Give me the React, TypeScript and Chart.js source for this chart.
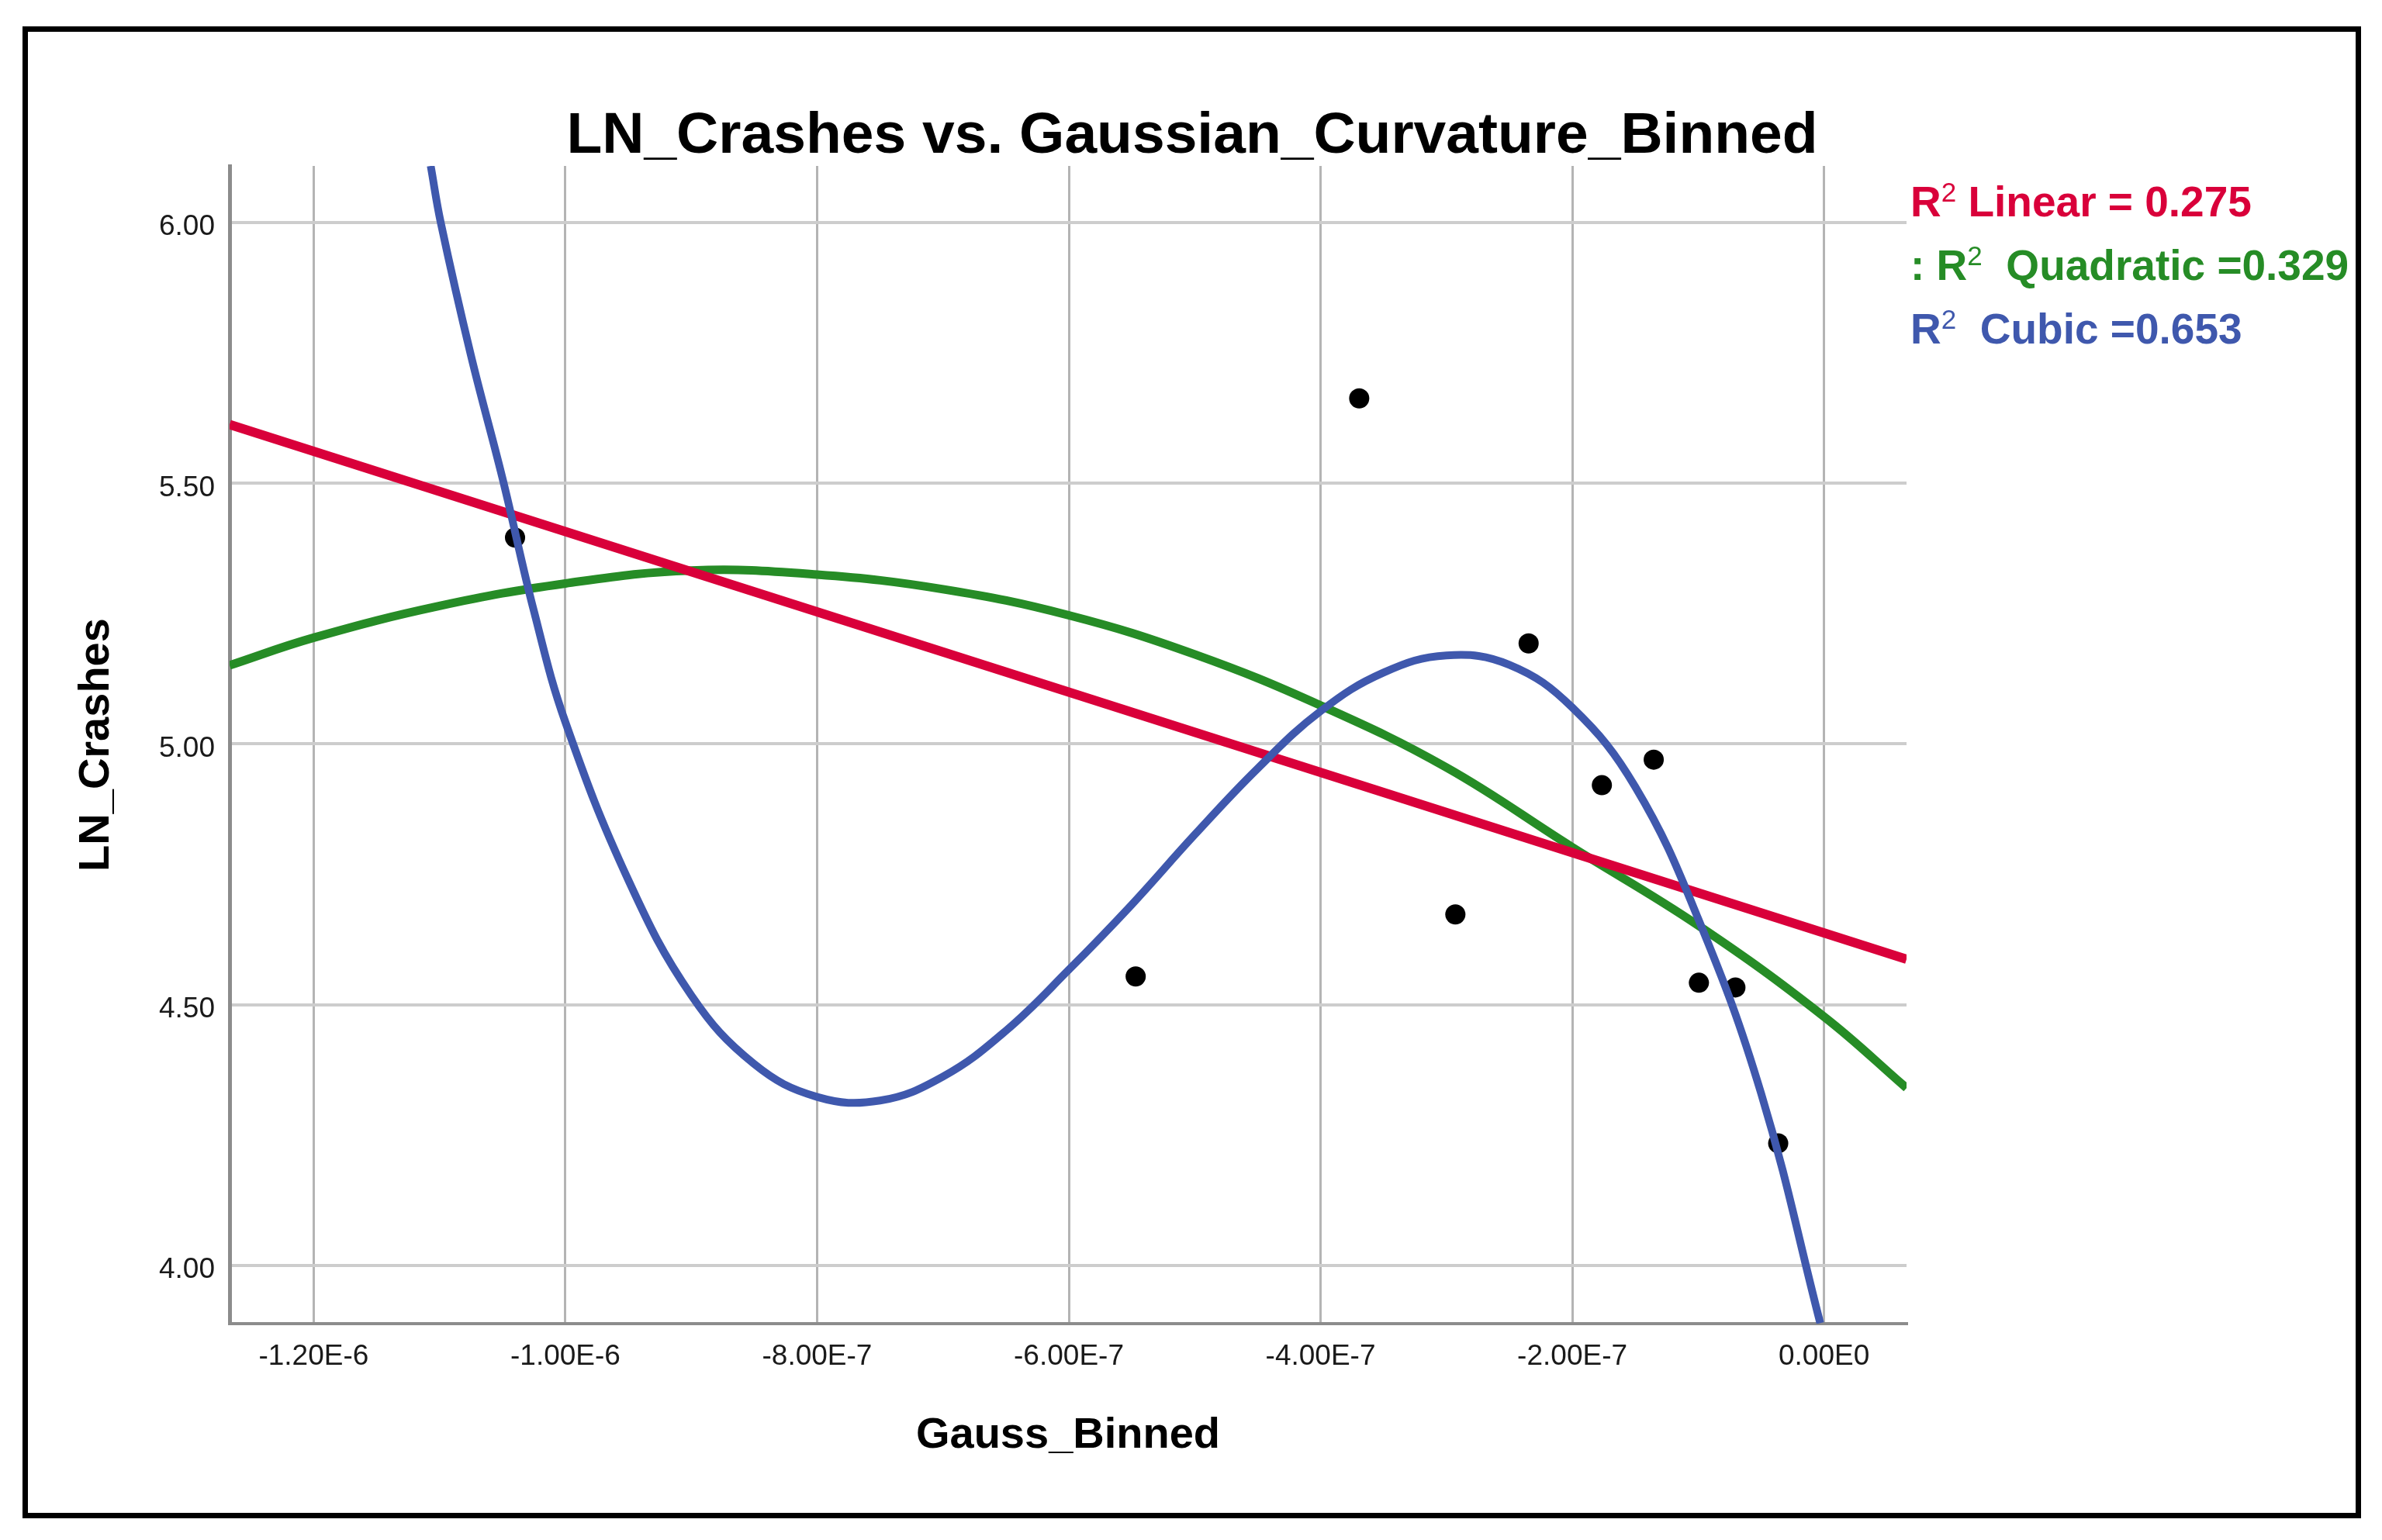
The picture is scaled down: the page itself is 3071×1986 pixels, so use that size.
import React, { useEffect, useRef } from "react";
import { Chart, registerables } from "chart.js";

Chart.register(...registerables);

const FONT = '"Liberation Sans", Arial, Helvetica, sans-serif';

// ---- Data ----
const X_MIN = -1.2668e-6;
const X_MAX = 6.556e-8;
const Y_MIN = 3.888;
const Y_MAX = 6.109;

const X_TICKS = [-1.2e-6, -1.0e-6, -8.0e-7, -6.0e-7, -4.0e-7, -2.0e-7, 0];
const X_TICK_LABELS = ["-1.20E-6", "-1.00E-6", "-8.00E-7", "-6.00E-7", "-4.00E-7", "-2.00E-7", "0.00E0"];
const Y_TICKS = [4.0, 4.5, 5.0, 5.5, 6.0];
const Y_TICK_LABELS = ["4.00", "4.50", "5.00", "5.50", "6.00"];

// observed (binned) points
const POINT_X = [-1.04e-6, -3.693e-7, -2.347e-7, -1.353e-7, -1.765e-7, -2.929e-7, -5.469e-7, -9.94e-8, -7.04e-8, -3.64e-8];
const POINT_Y = [5.396, 5.663, 5.193, 4.97, 4.921, 4.673, 4.554, 4.542, 4.533, 4.234];

// linear fit line (read at the plot edges)
const LINEAR_X = [-1.2668e-6, 6.556e-8];
const LINEAR_Y = [5.613, 4.587];

// quadratic fit curve
const QUAD_X = [-1.2668e-6, -1.2e-6, -1.1e-6, -1.0e-6, -9e-7, -8e-7, -7e-7, -6e-7, -5e-7, -4e-7, -3e-7, -2e-7, -1e-7, 0, 6.556e-8];
const QUAD_Y = [5.151, 5.204, 5.265, 5.308, 5.333, 5.325, 5.297, 5.247, 5.172, 5.074, 4.955, 4.802, 4.652, 4.477, 4.34];

// cubic fit curve
const CUBIC_X = [-1.107e-6, -1.099e-6, -1.075e-6, -1.05e-6, -1.025e-6, -1.0e-6, -9.5e-7, -9.0e-7, -8.5e-7, -8.0e-7, -7.5e-7, -7.0e-7, -6.5e-7, -6.0e-7, -5.5e-7, -5.0e-7, -4.5e-7, -4.0e-7, -3.5e-7, -3.0e-7, -2.5e-7, -2.0e-7, -1.5e-7, -1.0e-7, -5.0e-8, -3e-9];
const CUBIC_Y = [6.109, 6.0, 5.745, 5.51, 5.255, 5.042, 4.739, 4.518, 4.386, 4.323, 4.316, 4.362, 4.45, 4.567, 4.692, 4.826, 4.953, 5.063, 5.137, 5.17, 5.152, 5.07, 4.918, 4.665, 4.33, 3.889];

const LEGEND_LINEAR = "0.275";
const LEGEND_QUAD = "0.329";
const LEGEND_CUBIC = "0.653";

const RED = "#d9003a";
const GREEN = "#268c26";
const BLUE = "#3f58ad";

const zip = (xs: number[], ys: number[]) => xs.map((x, i) => ({ x, y: ys[i] }));

export default function App() {
  const ref = useRef<HTMLCanvasElement>(null);

  useEffect(() => {
    if (!ref.current) return;
    const chart = new Chart(ref.current, {
      type: "scatter",
      data: {
        datasets: [
          {
            type: "scatter",
            label: "Observed",
            data: zip(POINT_X, POINT_Y),
            pointRadius: 13,
            pointBackgroundColor: "#000",
            pointBorderWidth: 0,
            order: 4,
          } as any,
          {
            type: "line",
            label: "Quadratic",
            data: zip(QUAD_X, QUAD_Y),
            borderColor: GREEN,
            borderWidth: 11,
            pointRadius: 0,
            tension: 0.4,
            fill: false,
            clip: 0,
            order: 3,
          } as any,
          {
            type: "line",
            label: "Linear",
            data: zip(LINEAR_X, LINEAR_Y),
            borderColor: RED,
            borderWidth: 12,
            pointRadius: 0,
            tension: 0,
            fill: false,
            clip: 0,
            order: 2,
          } as any,
          {
            type: "line",
            label: "Cubic",
            data: zip(CUBIC_X, CUBIC_Y),
            borderColor: BLUE,
            borderWidth: 10,
            pointRadius: 0,
            tension: 0.4,
            fill: false,
            clip: 0,
            order: 1,
          } as any,
        ],
      },
      options: {
        responsive: false,
        devicePixelRatio: 1,
        animation: false,
        events: [],
        layout: { padding: { left: 0, top: 214, right: 613, bottom: 0 } },
        plugins: {
          legend: { display: false },
          title: { display: false },
          tooltip: { enabled: false },
        },
        scales: {
          x: {
            type: "linear",
            min: X_MIN,
            max: X_MAX,
            afterBuildTicks: (s: any) => {
              s.ticks = X_TICKS.map((v) => ({ value: v }));
            },
            afterFit: (s: any) => {
              s.height = 279;
            },
            ticks: {
              autoSkip: false,
              maxRotation: 0,
              padding: 21,
              color: "#1a1a1a",
              font: { family: FONT, size: 37 },
              callback: (_v: any, i: number) => X_TICK_LABELS[i],
            },
            grid: { color: "#b4b4b4", lineWidth: 3, drawTicks: false },
            border: { display: true, color: "#8c8c8c", width: 4 },
            title: {
              display: true,
              text: "Gauss_Binned",
              color: "#000",
              font: { family: FONT, size: 56, weight: "bold" },
              padding: { top: 0, bottom: 101 },
            },
          },
          y: {
            type: "linear",
            min: Y_MIN,
            max: Y_MAX,
            afterBuildTicks: (s: any) => {
              s.ticks = Y_TICKS.map((v) => ({ value: v }));
            },
            afterFit: (s: any) => {
              s.width = 296;
            },
            ticks: {
              autoSkip: false,
              padding: 19,
              labelOffset: 6,
              color: "#1a1a1a",
              font: { family: FONT, size: 37 },
              callback: (_v: any, i: number) => Y_TICK_LABELS[i],
            },
            grid: { color: "#cdcdcd", lineWidth: 4, drawTicks: false },
            border: { display: true, color: "#8c8c8c", width: 5 },
            title: {
              display: true,
              text: "LN_Crashes",
              color: "#000",
              font: { family: FONT, size: 56, weight: "bold" },
              padding: { top: 91, bottom: 0 },
            },
          },
        },
      } as any,
    });
    return () => chart.destroy();
  }, []);

  const legendLine = (top: number, color: string): React.CSSProperties => ({
    position: "absolute",
    left: 2463,
    top,
    fontFamily: FONT,
    fontWeight: 700,
    fontSize: 55,
    lineHeight: "55px",
    color,
    whiteSpace: "pre",
  });
  const sup: React.CSSProperties = {
    fontSize: 35,
    fontWeight: 400,
    position: "relative",
    top: -19,
  };

  return (
    <div
      style={{
        position: "absolute",
        left: 0,
        top: 0,
        width: 3071,
        height: 1986,
        background: "#fff",
        overflow: "hidden",
      }}
    >
      <canvas
        ref={ref}
        width={3071}
        height={1986}
        style={{ position: "absolute", left: 0, top: 0, width: 3071, height: 1986 }}
      />
      <div
        style={{
          position: "absolute",
          left: 29,
          top: 34,
          width: 3015,
          height: 1924,
          border: "7px solid #000",
          boxSizing: "border-box",
          pointerEvents: "none",
        }}
      />
      <div
        style={{
          position: "absolute",
          left: 2,
          top: 134,
          width: 3070,
          textAlign: "center",
          fontFamily: FONT,
          fontWeight: 700,
          fontSize: 75,
          lineHeight: "75px",
          color: "#000",
          whiteSpace: "nowrap",
        }}
      >
        LN_Crashes vs. Gaussian_Curvature_Binned
      </div>
      <div style={legendLine(233, RED)}>
        R<span style={sup}>2</span>
        {" Linear = " + LEGEND_LINEAR}
      </div>
      <div style={legendLine(315, GREEN)}>
        {": R"}
        <span style={sup}>2</span>
        {"  Quadratic =" + LEGEND_QUAD}
      </div>
      <div style={legendLine(397, BLUE)}>
        R<span style={sup}>2</span>
        {"  Cubic =" + LEGEND_CUBIC}
      </div>
    </div>
  );
}
